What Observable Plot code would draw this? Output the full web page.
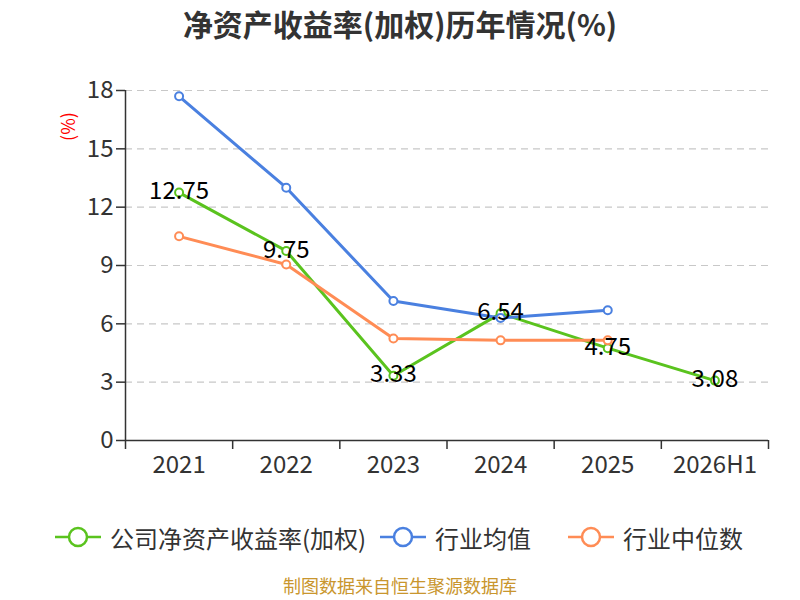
<!DOCTYPE html>
<html>
<head>
<meta charset="utf-8">
<script src="https://cdn.jsdelivr.net/npm/d3@7"></script>
<script src="https://cdn.jsdelivr.net/npm/@observablehq/plot@0.6"></script>
<style>
  html, body { margin: 0; padding: 0; background: #fff; }
  body { width: 800px; height: 600px; position: relative; overflow: hidden; font-family: "Noto Sans CJK SC", "Noto Sans", sans-serif; }
  #title { position: absolute; top: 0; left: 0; width: 800px; text-align: center; font-size: 30px; font-weight: bold; color: #333; line-height: 46px; }
  #chart { position: absolute; top: 50px; left: 0; }
  .leg { position: absolute; top: 522px; height: 30px; display: flex; align-items: center; font-size: 24px; color: #333; }
  .leg svg { margin-right: 9px; }
  #caption { position: absolute; top: 575px; left: 0; width: 800px; text-align: center; font-size: 18px; color: #c9962e; line-height: 20px; }
</style>
</head>
<body>
<div id="title">净资产收益率(加权)历年情况(%)</div>
<div id="chart"></div>
<div id="legend"></div>
<div id="caption">制图数据来自恒生聚源数据库</div>
<script>
const years = ["2021", "2022", "2023", "2024", "2025", "2026H1"];
const companyROE = [12.75, 9.75, 3.33, 6.54, 4.75, 3.08];
const industryMean = [17.7, 13.0, 7.17, 6.3, 6.7];
const industryMedian = [10.5, 9.05, 5.25, 5.15, 5.15];
const yTicks = [0, 3, 6, 9, 12, 15, 18];

const seriesNames = ["公司净资产收益率(加权)", "行业均值", "行业中位数"];
const seriesColors = ["#5ac31e", "#4a80e0", "#ff8c55"];

const toRows = (vals) => vals.map((v, i) => ({ i: i + 0.5, v }));
const rowsCompany = toRows(companyROE);
const rowsMean = toRows(industryMean);
const rowsMedian = toRows(industryMedian);

const boundaries = d3.range(years.length + 1);
const centers = years.map((_, i) => i + 0.5);

const chart = Plot.plot({
  width: 800,
  height: 430,
  marginTop: 40,
  marginBottom: 40,
  marginLeft: 125,
  marginRight: 32,
  style: { fontFamily: '"Noto Sans CJK SC", "Noto Sans", sans-serif', background: "transparent" },
  x: { type: "linear", domain: [0, years.length], axis: null },
  y: { domain: [0, 18], axis: null },
  marks: [
    Plot.gridY(yTicks.filter(d => d > 0), { stroke: "#c8c8c8", strokeOpacity: 1, strokeDasharray: "7,5", strokeWidth: 1.2 }),
    Plot.axisY(yTicks, { tickSize: 9, tickPadding: 3, fontSize: 24, color: "#333", stroke: "#333", strokeWidth: 1.5, label: null, tickFormat: d => d }),
    Plot.ruleX([0], { y1: 0, y2: 18, stroke: "#333", strokeWidth: 1.5 }),
    Plot.ruleY([0], { stroke: "#333", strokeWidth: 1.5 }),
    Plot.axisX(boundaries, { tickSize: 9, tickFormat: () => "", stroke: "#333", strokeWidth: 1.5, label: null }),
    Plot.axisX(centers, { tickSize: 0, tickPadding: 15, fontSize: 24, color: "#333", label: null, tickFormat: d => years[Math.round(d - 0.5)] }),
    Plot.text(["(%)"], { frameAnchor: "top-left", dx: -63, dy: 36, rotate: -90, fill: "red", fontSize: 18, textAnchor: "middle" }),
    Plot.line(rowsCompany, { x: "i", y: "v", stroke: seriesColors[0], strokeWidth: 3 }),
    Plot.dot(rowsCompany, { x: "i", y: "v", r: 4, fill: "white", stroke: seriesColors[0], strokeWidth: 2 }),
    Plot.line(rowsMean, { x: "i", y: "v", stroke: seriesColors[1], strokeWidth: 3 }),
    Plot.dot(rowsMean, { x: "i", y: "v", r: 4, fill: "white", stroke: seriesColors[1], strokeWidth: 2 }),
    Plot.line(rowsMedian, { x: "i", y: "v", stroke: seriesColors[2], strokeWidth: 3 }),
    Plot.dot(rowsMedian, { x: "i", y: "v", r: 4, fill: "white", stroke: seriesColors[2], strokeWidth: 2 }),
    Plot.text(rowsCompany, { x: "i", y: "v", text: d => d.v.toFixed(2), fontSize: 24, fill: "#000", dy: -1 })
  ]
});
document.getElementById("chart").appendChild(chart);

const legendLefts = [55, 380, 568];
const legend = document.getElementById("legend");
seriesNames.forEach((name, k) => {
  const item = document.createElement("div");
  item.className = "leg";
  item.style.left = legendLefts[k] + "px";
  const c = seriesColors[k];
  item.innerHTML = `<svg width="46" height="24" viewBox="0 0 46 24"><line x1="0" y1="12" x2="46" y2="12" stroke="${c}" stroke-width="2.5"/><circle cx="23" cy="12" r="9" fill="white" stroke="${c}" stroke-width="2.5"/></svg><span>${name}</span>`;
  legend.appendChild(item);
});
</script>
</body>
</html>
